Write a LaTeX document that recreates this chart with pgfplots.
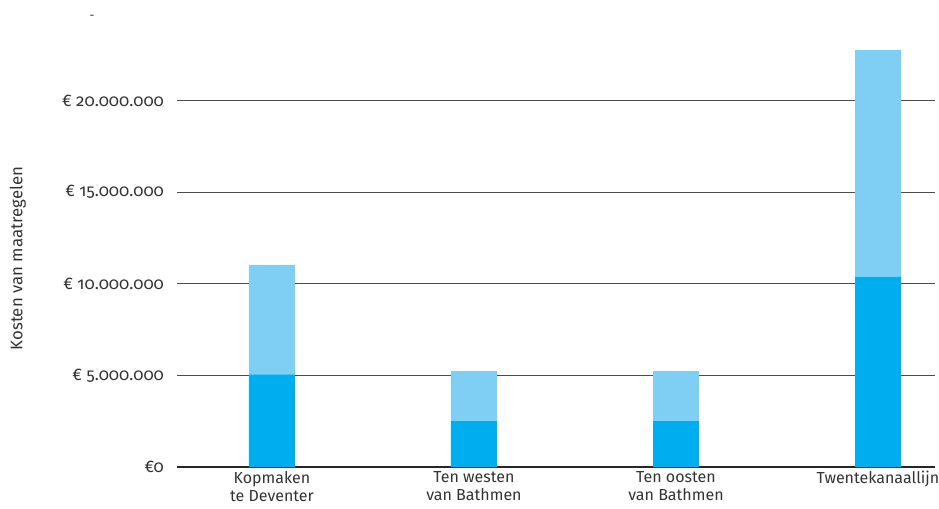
\documentclass[border=0pt]{standalone}
\usepackage{pgfplots}
\pgfplotsset{compat=1.18}
\usepackage{fontspec}
\setmainfont{Fira Sans}[Numbers=OldStyle]
\definecolor{donker}{HTML}{00AEEF}
\definecolor{licht}{HTML}{7FCFF4}
\definecolor{tekst}{HTML}{333333}

% kosten in miljoen euro: onderste deel, bovenste deel
\pgfplotstableread{
x onder boven
0 5.05 5.98
1 2.51 2.73
2 2.51 2.73
3 10.39 12.37
}\kosten

\begin{document}
\begin{tikzpicture}[font=\fontsize{8.4}{9.2}\selectfont, text=tekst]
\begin{axis}[
  scale only axis, width=379pt, height=208.5pt,
  ybar stacked, bar width=23pt,
  xmin=-0.47, xmax=3.282, ymin=0, ymax=22.76,
  clip=false,
  axis lines*=left,
  y axis line style={draw=none},
  x axis line style={black!85, line width=0.6pt},
  major tick length=0pt,
  ymajorgrids, grid style={black!70, line width=0.5pt},
  xtick=data,
  xticklabels={{Kopmaken\\te Deventer},{Ten westen\\van Bathmen},{Ten oosten\\van Bathmen},{Twentekanaallijn}},
  xticklabel style={align=center, text=tekst, inner sep=2pt, font=\fontsize{8.0}{9.2}\selectfont},
  ytick={0,5,10,15,20},
  yticklabels={€0,€ 5.000.000,€ 10.000.000,€ 15.000.000,€ 20.000.000},
  yticklabel style={text=tekst, xshift=-3pt},
  ylabel={Kosten van maatregelen},
  ylabel style={at={(rel axis cs:-0.19,0.5)}, anchor=south, text=tekst},
]
\addplot[fill=donker, draw=none] table[x=x, y=onder] {\kosten};
\addplot[fill=licht, draw=none] table[x=x, y=boven] {\kosten};
\node[font=\fontsize{6}{7}\selectfont] at (rel axis cs:-0.112,1.078) {-};
\coordinate (bl) at (rel axis cs:-0.2335,-0.0983);
\coordinate (tr) at (rel axis cs:1.0053,1.12);
\end{axis}
\pgfresetboundingbox
\path (bl) rectangle (tr);
\end{tikzpicture}
\end{document}
